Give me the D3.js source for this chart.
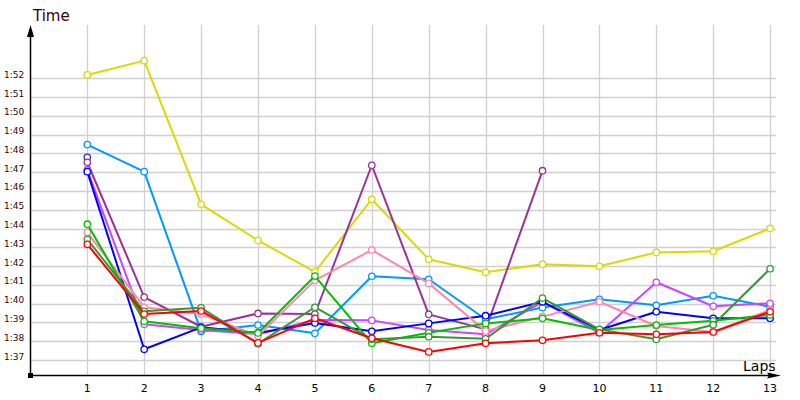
<!DOCTYPE html>
<html><head><meta charset="utf-8">
<script src="https://cdn.jsdelivr.net/npm/d3@7"></script>
<style>body{margin:0;background:#fff;} svg{display:block;}</style>
</head><body>
<svg id="c" width="800" height="400"></svg>
<script>
const laps = [1,2,3,4,5,6,7,8,9,10,11,12,13];
const yTickValues = [97,98,99,100,101,102,103,104,105,106,107,108,109,110,111,112];
const yTickLabels = ["1:37","1:38","1:39","1:40","1:41","1:42","1:43","1:44","1:45","1:46","1:47","1:48","1:49","1:50","1:51","1:52"];
const seriesNames = ["yellow","lightblue","indigo","purple","magenta","blue","pink","green","darkgreen","red"];
const seriesColors = ["#dcd800","#0099ff","#333399","#993399","#cc44ff","#0000ff","#ff88aa","#00c000","#339933","#ff0000"];
const yellow    = [112.18,112.94,105.29,103.37,101.69,105.56,102.36,101.67,102.10,101.99,102.73,102.79,104.01];
const lightblue = [108.47,107.03,98.52,98.86,98.42,101.46,101.30,99.17,99.79,100.23,99.91,100.42,99.84];
const indigo    = [107.79];
const purple    = [107.53,100.35,98.77,99.48,99.45,107.37,99.43,98.63,107.08];
const magenta   = [107.12,98.90,98.60,98.37,99.13,99.11,98.60,98.37,100.10,98.45,101.14,99.86,100.02];
const blue      = [107.03,97.57,98.74,98.44,98.97,98.53,98.95,99.36,100.10,98.60,99.57,99.22,99.22];
const pink      = [103.80,99.81,99.45,98.28,101.24,102.86,101.08,98.54,99.31,100.10,98.81,98.49,99.66];
const green     = [104.23,99.06,98.69,98.44,101.47,97.89,98.45,98.95,99.22,98.60,98.86,99.09,99.40];
const darkgreen = [103.43,99.59,99.78,97.87,99.81,98.10,98.24,98.13,100.30,98.63,98.10,98.88,101.86];
const red       = [103.16,99.45,99.61,97.91,99.22,98.16,97.43,97.89,98.05,98.45,98.37,98.49,99.57];
const seriesValues = [yellow,lightblue,indigo,purple,magenta,blue,pink,green,darkgreen,red];

const svg = d3.select("#c");
const x = d3.scaleLinear().domain([1,13]).range([87.3,770.1]);
const y = d3.scaleLinear().domain([97,112]).range([360,78.3]);
const x0 = 30.5, y0 = 375.5;

// grid
svg.append("g").selectAll("line").data(yTickValues).join("line")
  .attr("x1", x0).attr("x2", 776).attr("y1", d=>Math.round(y(d))+0.5).attr("y2", d=>Math.round(y(d))+0.5)
  .attr("stroke","#d0d0d0").attr("stroke-width",1.3);
svg.append("g").selectAll("line").data(laps).join("line")
  .attr("x1", d=>Math.round(x(d))+0.5).attr("x2", d=>Math.round(x(d))+0.5).attr("y1", 25).attr("y2", y0)
  .attr("stroke","#d0d0d0").attr("stroke-width",1.3);

// y labels
svg.append("g").selectAll("text").data(yTickValues).join("text")
  .attr("x", 4).attr("y", d=>y(d)-0.5)
  .attr("font-family","Verdana, 'DejaVu Sans', sans-serif").attr("font-size",9)
  .attr("fill","#3a0000")
  .text((d,i)=>yTickLabels[i]);

// x labels
svg.append("g").selectAll("text").data(laps).join("text")
  .attr("x", d=>x(d)).attr("y", 392).attr("text-anchor","middle")
  .attr("font-family","Verdana, 'DejaVu Sans', sans-serif").attr("font-size",11)
  .attr("fill","#000")
  .text(d=>d);

// axes
svg.append("line").attr("x1",x0).attr("x2",x0).attr("y1",y0).attr("y2",34).attr("stroke","#000").attr("stroke-width",1.5);
svg.append("path").attr("d",`M${x0},25 L${x0-3.5},37 L${x0+3.5},37 Z`).attr("fill","#000");
svg.append("line").attr("x1",x0).attr("x2",772).attr("y1",y0).attr("y2",y0).attr("stroke","#000").attr("stroke-width",1.5);
svg.append("path").attr("d",`M781,${y0} L767,${y0-3} L769,${y0} L767,${y0+3} Z`).attr("fill","#000");
svg.append("rect").attr("x",x0-2.5).attr("y",y0-2.5).attr("width",5).attr("height",5).attr("fill","#000");

svg.append("text").attr("x",33).attr("y",21).attr("font-family","Verdana, 'DejaVu Sans', sans-serif")
  .attr("font-size",15).attr("fill","#3a0000").text("Time");
svg.append("text").attr("x",743).attr("y",371).attr("font-family","Verdana, 'DejaVu Sans', sans-serif")
  .attr("font-size",14).attr("fill","#000").text("Laps");

// series
const line = d3.line().x((d,i)=>x(laps[i])).y(d=>y(d));
const order = [0,1,2,3,4,5,6,7,8,9];
order.forEach(si=>{
  const vals = seriesValues[si];
  const g = svg.append("g");
  g.append("path").attr("d", line(vals)).attr("fill","none")
    .attr("stroke", seriesColors[si]).attr("stroke-width",2).attr("stroke-linejoin","round");
  g.selectAll("circle").data(vals).join("circle")
    .attr("cx",(d,i)=>x(laps[i])).attr("cy",d=>y(d)).attr("r",3.2)
    .attr("fill","#fff").attr("stroke",seriesColors[si]).attr("stroke-width",1.3);
});
</script>
</body></html>
